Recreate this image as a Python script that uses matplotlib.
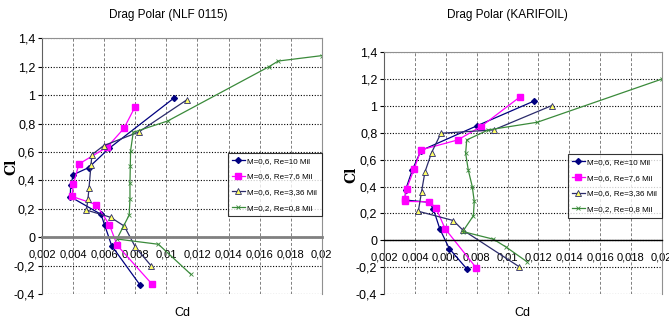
import matplotlib.pyplot as plt
from matplotlib.ticker import FuncFormatter

plt.rcParams['font.family'] = ['Liberation Sans', 'DejaVu Sans']

# Drag polar, NLF 0115
nlf_cd_10 = [0.01049, 0.00630, 0.00499, 0.00400, 0.00383, 0.00380, 0.00578, 0.00602, 0.00647, 0.00832]
nlf_cl_10 = [0.98, 0.625, 0.49, 0.44, 0.365, 0.285, 0.161, 0.085, -0.06, -0.34]
nlf_cd_76 = [0.00797, 0.00726, 0.00619, 0.00436, 0.00400, 0.00391, 0.00548, 0.00632, 0.00683, 0.00905]
nlf_cl_76 = [0.916, 0.766, 0.635, 0.515, 0.372, 0.287, 0.229, 0.088, -0.058, -0.328]
nlf_cd_336 = [0.0113, 0.00821, 0.00595, 0.0052, 0.00514, 0.00501, 0.00494, 0.00484, 0.0064, 0.00728, 0.0080, 0.0090]
nlf_cl_336 = [0.966, 0.74, 0.644, 0.581, 0.51, 0.346, 0.266, 0.191, 0.14, 0.078, -0.07, -0.20]
nlf_cd_08 = [0.0200, 0.0172, 0.0166, 0.01008, 0.00786, 0.00769, 0.00767, 0.00765, 0.00765, 0.0076, 0.00681, 0.00948, 0.01156]
nlf_cl_08 = [1.278, 1.240, 1.200, 0.818, 0.738, 0.609, 0.503, 0.384, 0.269, 0.156, -0.013, -0.05, -0.26]

# Drag polar, KARIFOIL
kar_cd_10 = [0.01174, 0.0080, 0.00438, 0.00382, 0.00339, 0.00334, 0.00492, 0.00518, 0.00561, 0.00622, 0.00737]
kar_cl_10 = [1.038, 0.852, 0.668, 0.524, 0.378, 0.30, 0.283, 0.234, 0.083, -0.062, -0.215]
kar_cd_76 = [0.01083, 0.00828, 0.00676, 0.00438, 0.00393, 0.00345, 0.00334, 0.00334, 0.00492, 0.00536, 0.00594, 0.00795]
kar_cl_76 = [1.07, 0.847, 0.747, 0.673, 0.529, 0.383, 0.31, 0.29, 0.286, 0.241, 0.087, -0.203]
kar_cd_336 = [0.01287, 0.0091, 0.00568, 0.00507, 0.00464, 0.00442, 0.00421, 0.00648, 0.00709, 0.01074]
kar_cl_336 = [1.003, 0.822, 0.797, 0.653, 0.509, 0.363, 0.216, 0.147, 0.077, -0.196]
kar_cd_08 = [0.0200, 0.01193, 0.00875, 0.00735, 0.00728, 0.00745, 0.00771, 0.00784, 0.00778, 0.00709, 0.00908, 0.0099, 0.01125]
kar_cl_08 = [1.20, 0.879, 0.822, 0.747, 0.648, 0.524, 0.40, 0.289, 0.182, 0.065, 0.008, -0.05, -0.159]

labels = ["M=0,6, Re=10 Mil", "M=0,6, Re=7,6 Mil", "M=0,6, Re=3,36 Mil", "M=0,2, Re=0,8 Mil"]
x_ticks = [0.002, 0.004, 0.006, 0.008, 0.01, 0.012, 0.014, 0.016, 0.018, 0.02]
y_ticks = [-0.4, -0.2, 0, 0.2, 0.4, 0.6, 0.8, 1.0, 1.2, 1.4]


def comma(v, pos):
    return ("%g" % round(v, 4)).replace(".", ",")


def draw_polar(ax, series, zero_color, zero_width, legend_top):
    ax.plot(series[0][0], series[0][1], color="#000080", lw=0.9, marker="D", ms=3,
            mfc="#000080", mec="#000080", label=labels[0])
    ax.plot(series[1][0], series[1][1], color="#FF00FF", lw=0.9, marker="s", ms=3.8,
            mfc="#FF00FF", mec="#FF00FF", label=labels[1])
    ax.plot(series[2][0], series[2][1], color="#2B2B6B", lw=0.9, marker="^", ms=4,
            mfc="#FFFF66", mec="#2B2B6B", mew=0.6, label=labels[2])
    ax.plot(series[3][0], series[3][1], color="#3A8A3A", lw=0.9, marker="x", ms=2.5,
            mew=0.6, label=labels[3])

    ax.set_xlim(0.002, 0.02)
    ax.set_ylim(-0.4, 1.4)
    ax.set_xticks(x_ticks)
    ax.set_yticks(y_ticks)
    ax.xaxis.set_major_formatter(FuncFormatter(comma))
    ax.yaxis.set_major_formatter(FuncFormatter(comma))

    ax.grid(axis="y", color="black", ls=(0, (1, 1.5)), lw=0.8)
    ax.grid(axis="x", color="#808080", ls=(0, (3, 2)), lw=0.7)

    ax.spines["bottom"].set_position(("data", 0))
    ax.spines["bottom"].set_color(zero_color)
    ax.spines["bottom"].set_linewidth(zero_width)
    ax.spines["left"].set_color("#606060")
    ax.spines["top"].set_color("#909090")
    ax.spines["right"].set_color("#909090")
    ax.tick_params(axis="x", length=0, pad=9, labelsize=8)
    ax.tick_params(axis="y", length=3, pad=2, labelsize=9)

    leg = ax.legend(loc="upper right", bbox_to_anchor=(1.0, legend_top), fontsize=5.8,
                    frameon=True, fancybox=False, borderaxespad=0, handlelength=1.5,
                    labelspacing=1.0, borderpad=0.55, handletextpad=0.35)
    leg.get_frame().set_edgecolor("black")
    leg.get_frame().set_linewidth(0.8)


fig = plt.figure(figsize=(6.69, 3.22), dpi=100)
ax1 = fig.add_axes([0.0632, 0.087, 0.4176, 0.794])
ax2 = fig.add_axes([0.5744, 0.087, 0.4146, 0.7506])

draw_polar(ax1, [(nlf_cd_10, nlf_cl_10), (nlf_cd_76, nlf_cl_76),
                 (nlf_cd_336, nlf_cl_336), (nlf_cd_08, nlf_cl_08)],
           "#808080", 2.0, 0.553)
draw_polar(ax2, [(kar_cd_10, kar_cl_10), (kar_cd_76, kar_cl_76),
                 (kar_cd_336, kar_cl_336), (kar_cd_08, kar_cl_08)],
           "black", 1.0, 0.579)

# titles and axis names, placed in figure pixels like the original
W, H = 669, 322
fig.text(168 / W, 1 - 15 / H, "Drag Polar (NLF 0115)", ha="center", va="center", fontsize=8.5)
fig.text(507 / W, 1 - 15 / H, "Drag Polar (KARIFOIL)", ha="center", va="center", fontsize=8.5)
fig.text(11 / W, 1 - 167 / H, "Cl", ha="center", va="center", rotation=90,
         fontsize=10, family="serif", fontweight="bold")
fig.text(351 / W, 1 - 175 / H, "Cl", ha="center", va="center", rotation=90,
         fontsize=10, family="serif", fontweight="bold")
fig.text(182 / W, 1 - 313 / H, "Cd", ha="center", va="center", fontsize=9)
fig.text(522 / W, 1 - 313 / H, "Cd", ha="center", va="center", fontsize=9)

fig.savefig("out.png", dpi=100)
